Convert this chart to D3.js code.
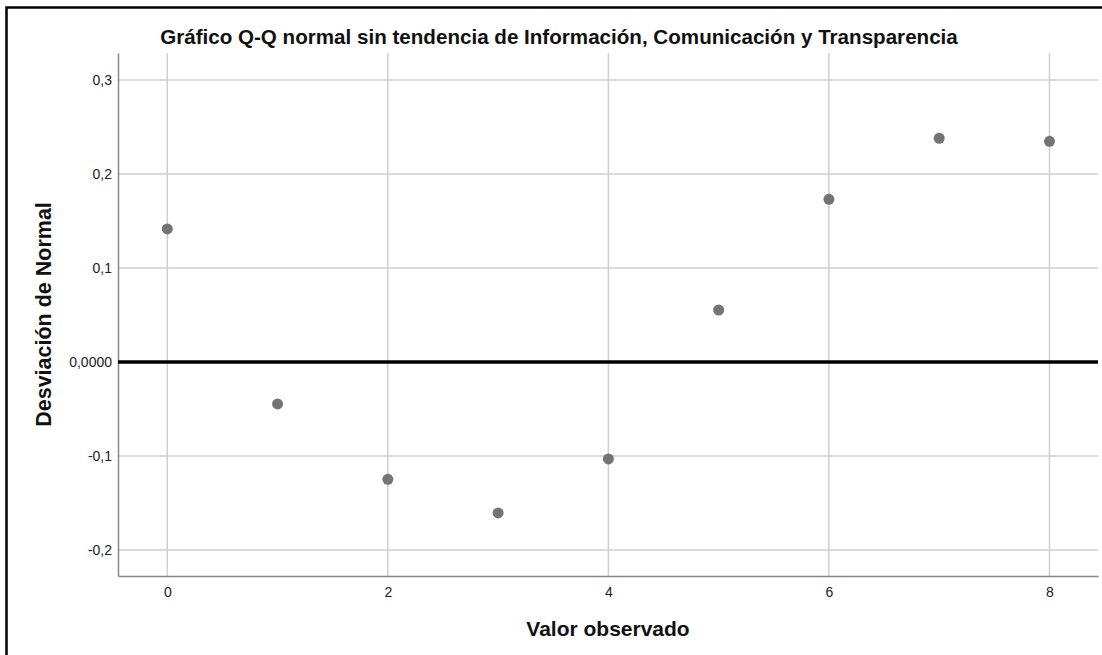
<!DOCTYPE html>
<html>
<head>
<meta charset="utf-8">
<script src="https://cdn.jsdelivr.net/npm/d3@7"></script>
<style>
  body { margin: 0; background: #fff; }
  svg { font-family: Arial, "Liberation Sans", sans-serif; }
</style>
</head>
<body>
<svg width="1102" height="655"></svg>
<script>
const observed = [0, 1, 2, 3, 4, 5, 6, 7, 8]
const deviation = [0.1415, -0.0447, -0.1249, -0.1606, -0.1032, 0.0553, 0.1730, 0.2380, 0.2347]
const xTicks = [0, 2, 4, 6, 8]
const yTicks = [0.3, 0.2, 0.1, 0, -0.1, -0.2]
const yTickLabels = ['0,3', '0,2', '0,1', '0,0000', '-0,1', '-0,2']

const plotLeft = 118, plotRight = 1098, plotTop = 53, plotBottom = 576

const x = d3.scaleLinear().domain([-0.447, 8.44]).range([plotLeft, plotRight])
const y = d3.scaleLinear().domain([-0.2277, 0.3287]).range([plotBottom, plotTop])

const svg = d3.select('svg')

// frame round the whole picture
svg.append('rect')
    .attr('x', 6.5).attr('y', 7.5).attr('width', 1200).attr('height', 800)
    .attr('fill', 'none').attr('stroke', '#000').attr('stroke-width', 2.5)

// gridlines
svg.append('g')
    .selectAll('line')
    .data(xTicks)
    .enter()
    .append('line')
    .attr('x1', d => x(d)).attr('x2', d => x(d))
    .attr('y1', plotTop).attr('y2', plotBottom)
    .attr('stroke', '#cfcfcf').attr('stroke-width', 1.5)

svg.append('g')
    .selectAll('line')
    .data(yTicks.filter(d => d !== 0))
    .enter()
    .append('line')
    .attr('x1', plotLeft).attr('x2', plotRight)
    .attr('y1', d => y(d)).attr('y2', d => y(d))
    .attr('stroke', '#cfcfcf').attr('stroke-width', 1.5)

// axes (no tick marks, just the lines and labels)
const xAxis = svg.append('g')
    .attr('transform', `translate(0,${plotBottom})`)
    .call(d3.axisBottom(x).tickValues(xTicks).tickSize(0).tickPadding(11).tickFormat(d3.format('d')))
xAxis.select('.domain').attr('stroke', '#888').attr('stroke-width', 1.5)
xAxis.selectAll('text').attr('font-size', 14).attr('fill', '#222')

const yAxis = svg.append('g')
    .attr('transform', `translate(${plotLeft},0)`)
    .call(d3.axisLeft(y).tickValues(yTicks).tickSize(0).tickPadding(6).tickFormat((d, i) => yTickLabels[i]))
yAxis.select('.domain').attr('stroke', '#888').attr('stroke-width', 1.5)
yAxis.selectAll('text').attr('font-size', 14).attr('fill', '#222')

// reference line at zero
svg.append('line')
    .attr('x1', plotLeft).attr('x2', plotRight)
    .attr('y1', y(0)).attr('y2', y(0))
    .attr('stroke', '#000').attr('stroke-width', 3.5)

// points
svg.append('g')
    .selectAll('circle')
    .data(observed)
    .enter()
    .append('circle')
    .attr('cx', d => x(d))
    .attr('cy', (d, i) => y(deviation[i]))
    .attr('r', 5.5)
    .attr('fill', '#747474')

// titles
svg.append('text')
    .attr('x', 559).attr('y', 44)
    .attr('text-anchor', 'middle')
    .attr('font-size', 20.6).attr('font-weight', 'bold').attr('fill', '#111')
    .text('Gráfico Q-Q normal sin tendencia de Información, Comunicación y Transparencia')

svg.append('text')
    .attr('x', (plotLeft + plotRight) / 2).attr('y', 636)
    .attr('text-anchor', 'middle')
    .attr('font-size', 21).attr('font-weight', 'bold').attr('fill', '#111')
    .text('Valor observado')

svg.append('text')
    .attr('transform', `translate(51,${(plotTop + plotBottom) / 2}) rotate(-90)`)
    .attr('text-anchor', 'middle')
    .attr('font-size', 21.5).attr('font-weight', 'bold').attr('fill', '#111')
    .text('Desviación de Normal')
</script>
</body>
</html>
